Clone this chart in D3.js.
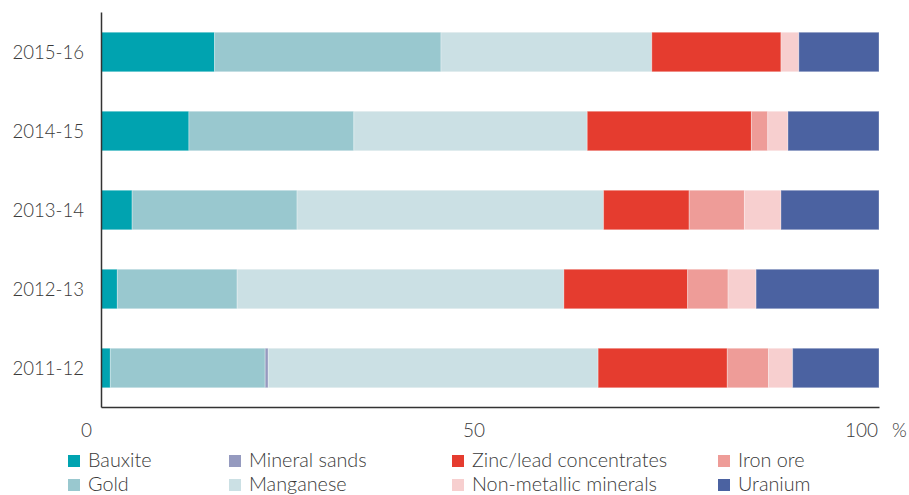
<!DOCTYPE html>
<html>
<head>
<meta charset="utf-8">
<script src="https://cdn.jsdelivr.net/npm/d3@7"></script>
<style>
    body { margin: 0; background: #fff; }
    svg text { font-family: 'Lato', 'Open Sans', sans-serif; font-weight: 300; fill: #3a3a3a; }
</style>
</head>
<body>
<div id="chart"></div>
<script>
// Data (percent share)
var years = ['2015-16', '2014-15', '2013-14', '2012-13', '2011-12'];
var seriesNames = ['Bauxite', 'Gold', 'Mineral sands', 'Manganese', 'Zinc/lead concentrates', 'Iron ore', 'Non-metallic minerals', 'Uranium'];
var bauxite     = [14.6, 11.3,  4.0,  2.1,  1.2];
var gold        = [29.1, 21.2, 21.2, 15.4, 19.9];
var mineralSands = [0,    0,    0,    0,    0.4];
var manganese   = [27.1, 30.0, 39.4, 42.0, 42.4];
var zincLead    = [16.6, 21.1, 11.0, 15.9, 16.6];
var ironOre     = [0,     2.1,  7.1,  5.2,  5.3];
var nonMetallic = [2.3,   2.6,  4.7,  3.6,  3.1];
var uranium     = [10.3, 11.7, 12.6, 15.8, 11.1];
var xTicks = [0, 50, 100];
var legendOrder = ['Bauxite', 'Gold', 'Mineral sands', 'Manganese', 'Zinc/lead concentrates', 'Non-metallic minerals', 'Iron ore', 'Uranium'];

var colors = {
    'Bauxite': '#00a3b0',
    'Gold': '#99c8cf',
    'Mineral sands': '#959abf',
    'Manganese': '#cbe0e4',
    'Zinc/lead concentrates': '#e53c2f',
    'Iron ore': '#ee9c98',
    'Non-metallic minerals': '#f7cfcf',
    'Uranium': '#4b62a1'
};

var render = function() {
    var width = 909;
    var height = 495;

    // build rows for the stack
    var allSeries = [bauxite, gold, mineralSands, manganese, zincLead, ironOre, nonMetallic, uranium];
    var rows = years.map(function(y, i) {
        var row = { year: y };
        seriesNames.forEach(function(s, j) { row[s] = allSeries[j][i]; });
        return row;
    });

    var stacked = d3.stack().keys(seriesNames)(rows);

    var svg = d3.select('#chart').append('svg')
        .attr('width', width)
        .attr('height', height);

    var x = d3.scaleLinear().domain([0, 100]).range([101, 879]);
    // tick labels sit a little left of the bars in the original
    var xLabel = d3.scaleLinear().domain([0, 100]).range([86, 861]);
    var y = d3.scaleBand().domain(years).range([12.5, 407.5]).paddingInner(0.5).paddingOuter(0.25);

    // bars
    svg.append('g').selectAll('g')
        .data(stacked)
        .enter().append('g')
        .attr('fill', function(d) { return colors[d.key]; })
        .selectAll('rect')
        .data(function(d) { return d; })
        .enter().append('rect')
        .attr('x', function(d) { return x(d[0]); })
        .attr('width', function(d) { return Math.max(0, x(d[1]) - x(d[0])); })
        .attr('y', function(d) { return y(d.data.year); })
        .attr('height', y.bandwidth())
        .attr('stroke', '#fff')
        .attr('stroke-opacity', 0.3)
        .attr('stroke-width', 1);

    // y axis
    var yAxis = svg.append('g')
        .attr('transform', 'translate(101,0)')
        .call(d3.axisLeft(d3.scaleLinear().range([12, 407])).tickValues([]).tickSizeOuter(0));
    yAxis.select('.domain').attr('stroke', '#333').attr('stroke-width', 1.5);

    svg.append('g').selectAll('text')
        .data(years)
        .enter().append('text')
        .attr('x', 84)
        .attr('y', function(d) { return y(d) + y.bandwidth() / 2; })
        .attr('dy', '0.36em')
        .attr('text-anchor', 'end')
        .style('font-size', '18.6px')
        .text(function(d) { return d; });

    // x axis line
    var xAxis = svg.append('g')
        .attr('transform', 'translate(0,407)')
        .call(d3.axisBottom(x).tickValues([]).tickSizeOuter(0));
    xAxis.select('.domain').attr('stroke', '#333').attr('stroke-width', 1.5);

    // x tick labels
    var xLab = svg.append('g')
        .attr('transform', 'translate(0,407)')
        .call(d3.axisBottom(xLabel).tickValues(xTicks).tickSize(0).tickPadding(16.5));
    xLab.select('.domain').remove();
    xLab.selectAll('text')
        .attr('fill', null)
        .style('font-size', '19px')
        .style('font-family', null);

    svg.append('text')
        .attr('x', 892)
        .attr('y', 437)
        .style('font-size', '19px')
        .text('%');

    // legend
    var legendCols = [68, 229, 452, 718];
    var legendRows = [455, 479];
    var legend = svg.append('g').selectAll('g')
        .data(legendOrder)
        .enter().append('g')
        .attr('transform', function(d, i) {
            return 'translate(' + legendCols[Math.floor(i / 2)] + ',' + legendRows[i % 2] + ')';
        });

    legend.append('rect')
        .attr('width', 12)
        .attr('height', 12)
        .attr('fill', function(d) { return colors[d]; });

    legend.append('text')
        .attr('x', 20)
        .attr('y', 11.5)
        .style('font-size', '19.8px')
        .text(function(d) { return d; });
};

render();
</script>
</body>
</html>
